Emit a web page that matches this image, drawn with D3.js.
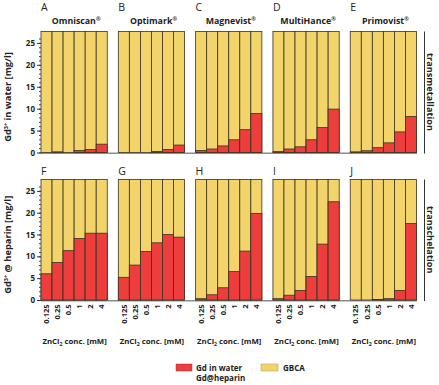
<!DOCTYPE html>
<html>
<head>
<meta charset="utf-8">
<script src="https://cdn.jsdelivr.net/npm/d3@7"></script>
<style>
body{margin:0;background:#fff;}
text{font-family:"Open Sans",sans-serif;}
</style>
</head>
<body>
<svg id="theSVG"></svg>
<script>
// data
var conc = ["0.125", "0.25", "0.5", "1", "2", "4"];
var agents = ["Omniscan", "Optimark", "Magnevist", "MultiHance", "Primovist"];
var topLetters = ["A", "B", "C", "D", "E"];
var botLetters = ["F", "G", "H", "I", "J"];
var yTicks = [0, 5, 10, 15, 20, 25];

// Gd in water (transmetallation), one row per agent
var gdWater = [
    [0.0, 0.15, 0.0, 0.45, 0.7, 1.9],
    [0.0, 0.0, 0.0, 0.25, 0.7, 1.7],
    [0.45, 0.8, 1.5, 2.9, 5.2, 8.9],
    [0.2, 0.8, 1.3, 2.9, 5.7, 9.9],
    [0.15, 0.4, 1.1, 2.2, 4.7, 8.2]
];
// Gd@heparin (transchelation)
var gdHeparin = [
    [6.0, 8.6, 11.3, 14.1, 15.3, 15.3],
    [5.2, 8.0, 11.1, 13.1, 15.0, 14.4],
    [0.3, 1.2, 2.8, 6.5, 11.2, 19.8],
    [0.3, 1.1, 2.2, 5.4, 12.8, 22.5],
    [0.0, 0.0, 0.1, 0.3, 2.2, 17.5]
];

var W = 439, H = 385;
var red = "#ee3d3d", yellow = "#f2d46b", edge = "#3b3222";
var svg = d3.select("#theSVG").attr("width", W).attr("height", H);

var xPanel = d3.scaleBand().domain(agents).range([41, 416.5]).paddingInner(0.143);
var xBar = d3.scaleBand().domain(conc).range([0, xPanel.bandwidth()]);

var rows = [
    {vals: gdWater, letters: topLetters, letterY: 10.5,
     y: d3.scaleLinear().domain([0, 27.6]).range([152.5, 31.5]),
     title: "in water [mg/l]", side: "transmetallation"},
    {vals: gdHeparin, letters: botLetters, letterY: 175,
     y: d3.scaleLinear().domain([0, 27.6]).range([300, 179.5]),
     title: "@ heparin [mg/l]", side: "transchelation"}
];

rows.forEach(function(row, r){
    var y = row.y;
    var y0 = y(0), yTop = y(27.6);

    // gray baseline running under all panels
    svg.append("line")
	.attr("x1", 41).attr("x2", 417)
	.attr("y1", y0 + 0.8).attr("y2", y0 + 0.8)
	.attr("stroke", "#8c8c8c").attr("stroke-width", 1.6);

    agents.forEach(function(a, i){
	var g = svg.append("g").attr("transform", "translate(" + xPanel(a) + ",0)");
	var bars = g.selectAll("g.bar").data(row.vals[i]).enter().append("g");
	bars.append("rect")
	    .attr("x", function(d, j){return xBar(conc[j]);})
	    .attr("y", yTop)
	    .attr("width", xBar.bandwidth())
	    .attr("height", y0 - yTop)
	    .attr("fill", yellow)
	    .attr("stroke", edge).attr("stroke-width", 0.8);
	bars.append("rect")
	    .attr("x", function(d, j){return xBar(conc[j]);})
	    .attr("y", function(d){return y(d);})
	    .attr("width", xBar.bandwidth())
	    .attr("height", function(d){return y0 - y(d);})
	    .attr("fill", red)
	    .attr("stroke", edge).attr("stroke-width", 0.8);

	// panel letter
	g.append("text")
	    .attr("x", 0).attr("y", row.letterY)
	    .attr("font-size", 10.5)
	    .attr("fill", "#222")
	    .text(row.letters[i]);

	if(r == 0){
	    var t = g.append("text")
		.attr("x", xPanel.bandwidth()/2 + 2).attr("y", 24)
		.attr("text-anchor", "middle")
		.attr("font-size", 8.8).attr("font-weight", "bold")
		.attr("fill", "#222");
	    t.append("tspan").text(a);
	    t.append("tspan").attr("font-size", 5.5).attr("dy", -3).text("®");
	} else {
	    // x tick labels, rotated
	    g.selectAll("text.tk").data(conc).enter().append("text")
		.attr("transform", function(d){
		    return "translate(" + (xBar(d) + xBar.bandwidth()/2 + 2.7) + "," + (y0 + 4.5) + ") rotate(-90)";})
		.attr("text-anchor", "end")
		.attr("font-size", 7.5).attr("font-weight", "bold")
		.attr("fill", "#222")
		.text(function(d){return d;});

	    var t = g.append("text")
		.attr("x", xPanel.bandwidth()/2 + 0.5).attr("y", 344)
		.attr("text-anchor", "middle")
		.attr("font-size", 7.8).attr("font-weight", "bold")
		.attr("fill", "#222");
	    t.append("tspan").text("ZnCl");
	    t.append("tspan").attr("font-size", 5.2).attr("dy", 2).text("2");
	    t.append("tspan").attr("dy", -2).text(" conc. [mM]");
	}
    });

    // y axis with minor ticks
    svg.append("g")
	.attr("transform", "translate(41,0)")
	.call(d3.axisLeft(y).tickValues(d3.range(0, 27, 1)).tickSize(2).tickFormat(""))
	.call(function(s){s.select(".domain").remove();})
	.selectAll("line").attr("stroke", "#444");
    var ax = svg.append("g")
	.attr("transform", "translate(41,0)")
	.call(d3.axisLeft(y).tickValues(yTicks).tickSize(4).tickPadding(2));
    ax.select(".domain").remove();
    ax.selectAll("line").attr("stroke", "#333");
    ax.selectAll("text")
	.attr("font-family", "Open Sans").attr("font-size", 8)
	.attr("font-weight", "bold").attr("fill", "#222");

    // y title
    var mid = (y0 + yTop)/2 + 5;
    var yt = svg.append("text")
	.attr("transform", "translate(11," + mid + ") rotate(-90)")
	.attr("text-anchor", "middle")
	.attr("font-size", 9.3).attr("font-weight", "bold")
	.attr("fill", "#222");
    yt.append("tspan").text("Gd");
    yt.append("tspan").attr("font-size", 5.5).attr("dy", -3.5).text("3+");
    yt.append("tspan").attr("dy", 3.5).text(" " + row.title);

    // right side label
    svg.append("line")
	.attr("x1", 424.5).attr("x2", 424.5)
	.attr("y1", yTop).attr("y2", y0 + 1)
	.attr("stroke", "#333").attr("stroke-width", 1);
    svg.append("text")
	.attr("transform", "translate(427," + ((y0 + yTop)/2) + ") rotate(90)")
	.attr("text-anchor", "middle")
	.attr("font-size", 9.2).attr("font-weight", "bold")
	.attr("fill", "#222")
	.text(row.side);
});

// legend
var leg = svg.append("g");
leg.append("rect").attr("x", 176).attr("y", 364).attr("width", 16).attr("height", 7)
    .attr("fill", red).attr("stroke", "#b03030").attr("stroke-width", 0.5);
leg.append("text").attr("x", 196).attr("y", 371)
    .attr("font-size", 8).attr("font-weight", "bold").attr("fill", "#222").text("Gd in water");
leg.append("text").attr("x", 196).attr("y", 381)
    .attr("font-size", 8).attr("font-weight", "bold").attr("fill", "#222").text("Gd@heparin");
leg.append("rect").attr("x", 261).attr("y", 364).attr("width", 17).attr("height", 7)
    .attr("fill", yellow).attr("stroke", "#b09a50").attr("stroke-width", 0.5);
leg.append("text").attr("x", 283).attr("y", 371)
    .attr("font-size", 8).attr("font-weight", "bold").attr("fill", "#222").text("GBCA");
</script>
</body>
</html>
